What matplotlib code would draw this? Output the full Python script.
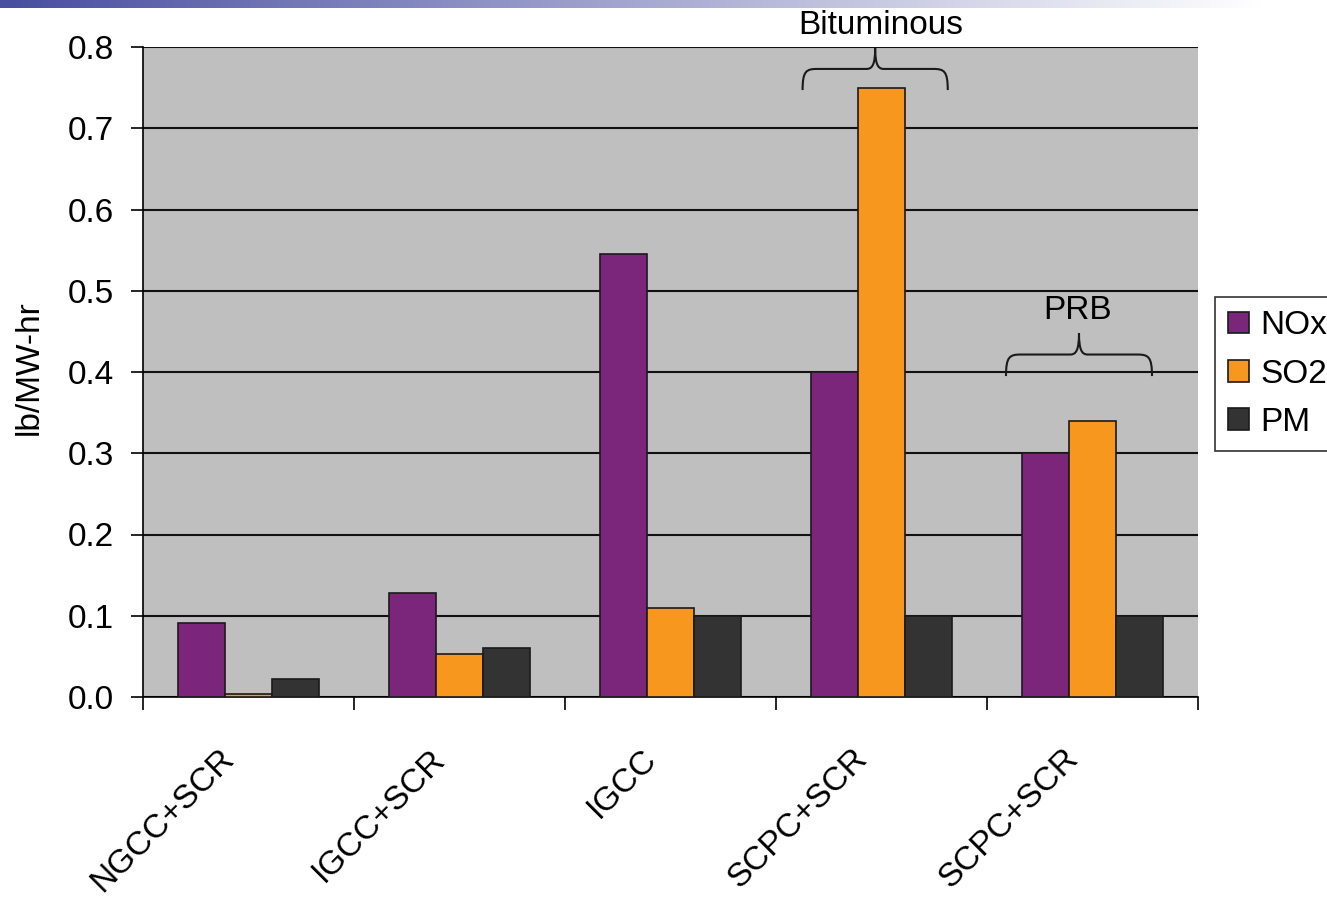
import numpy as np
import matplotlib.pyplot as plt
from matplotlib.path import Path
from matplotlib.patches import PathPatch

plt.rcParams['font.family'] = ['Liberation Sans', 'DejaVu Sans']

# emissions per technology (lb/MW-hr)
categories = ['NGCC+SCR', 'IGCC+SCR', 'IGCC', 'SCPC+SCR', 'SCPC+SCR']
nox = [0.091, 0.128, 0.545, 0.40, 0.30]
so2 = [0.004, 0.053, 0.11, 0.75, 0.34]
pm = [0.022, 0.060, 0.10, 0.10, 0.10]
series_names = ['NOx', 'SO2', 'PM']
colors = ['#7B267A', '#F7971E', '#333333']

FS = 24

fig = plt.figure(figsize=(13.27, 8.99), dpi=100)

# gradient band along the top edge
band = fig.add_axes([0, 1 - 8 / 899, 1, 8 / 899])
t = np.linspace(0, 1, 512)
c0 = np.array([72, 78, 160]) / 255
grad = c0[None, :] + (1 - c0[None, :]) * np.clip(t / 0.95, 0, 1)[:, None]
band.imshow(grad[None, :, :], aspect='auto', extent=[0, 1, 0, 1])
band.axis('off')

ax = fig.add_axes([143 / 1327, 1 - 697 / 899, 1055 / 1327, 650 / 899])
ax.set_facecolor('#C0BFC0')

x = np.arange(len(categories))
w = 0.223
for k, (vals, name, col) in enumerate(zip([nox, so2, pm], series_names, colors)):
    ax.bar(x + (k - 1) * w, vals, w, color=col, edgecolor='#1a1a1a', linewidth=1.2,
           label=name, zorder=3)

ax.set_xlim(-0.5, len(categories) - 0.5)
ax.set_ylim(0, 0.8)
yt = np.arange(0, 0.81, 0.1)
ax.set_yticks(yt, labels=[f'{v:.1f}' for v in yt])
ax.yaxis.grid(True, color='#111111', linewidth=1.5)
ax.set_axisbelow(True)

# boundary ticks between groups, labels near group centres
ax.set_xticks(np.arange(-0.5, len(categories)), labels=[''] * (len(categories) + 1))
ax.set_xticks(x - 0.09, labels=categories, minor=True)
ax.tick_params(axis='x', which='major', length=9, width=1.2, direction='out')
ax.tick_params(axis='x', which='minor', length=0, pad=41, labelsize=FS)
for lab in ax.get_xticklabels(minor=True):
    lab.set_rotation(45)
    lab.set_ha('right')
    lab.set_va('center')
    lab.set_rotation_mode('anchor')
ax.tick_params(axis='y', length=9, width=1.2, pad=12, labelsize=FS)

for side in ['top', 'right']:
    ax.spines[side].set_visible(False)
ax.spines['left'].set_linewidth(1.2)
ax.spines['bottom'].set_linewidth(1.2)

fig.text(29 / 1327, 1 - 368 / 899, 'lb/MW-hr', rotation=90, ha='center', va='center',
         fontsize=FS)


def brace(ax, xc, half, y0, y1, label, tx, ty):
    # curly brace opening downward, tip at y1
    pts = [(-1, 0), (-1, 0.45), (-0.95, 0.5), (-0.8, 0.5),
           (-0.12, 0.5),
           (-0.04, 0.5), (0, 0.6), (0, 1),
           (0, 0.6), (0.04, 0.5), (0.12, 0.5),
           (0.8, 0.5),
           (0.95, 0.5), (1, 0.45), (1, 0)]
    codes = [Path.MOVETO, Path.CURVE4, Path.CURVE4, Path.CURVE4,
             Path.LINETO,
             Path.CURVE4, Path.CURVE4, Path.CURVE4,
             Path.CURVE4, Path.CURVE4, Path.CURVE4,
             Path.LINETO,
             Path.CURVE4, Path.CURVE4, Path.CURVE4]
    verts = [(xc + px * half, y0 + py * (y1 - y0)) for px, py in pts]
    ax.add_patch(PathPatch(Path(verts, codes), fill=False, edgecolor='#1a1a1a',
                           linewidth=1.5, clip_on=False, zorder=4))
    ax.text(tx, ty, label, ha='center', va='center', fontsize=FS, clip_on=False)


brace(ax, 2.97, 0.344, 0.747, 0.799, 'Bituminous', 2.995, 0.827)
brace(ax, 3.936, 0.346, 0.395, 0.448, 'PRB', 3.93, 0.476)

leg = fig.legend(loc='upper left', bbox_to_anchor=(1215 / 1327, 1 - 297 / 899),
                 fontsize=FS, frameon=True, fancybox=False, edgecolor='black',
                 handlelength=0.62, handleheight=0.62, handletextpad=0.35,
                 labelspacing=0.52, borderpad=0.4, borderaxespad=0)
leg.get_frame().set_linewidth(1.2)

fig.savefig('out.png', dpi=100)
